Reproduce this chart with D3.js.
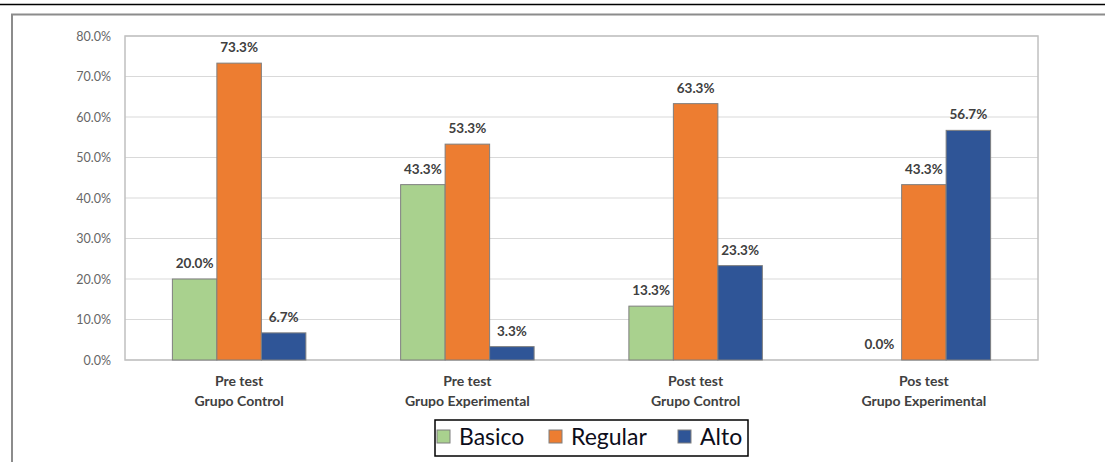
<!DOCTYPE html>
<html>
<head>
<meta charset="utf-8">
<script src="https://cdn.jsdelivr.net/npm/d3@7"></script>
<style>
  body { margin: 0; background: #fff; }
  svg { display: block; font-family: Lato, "Open Sans", sans-serif; }
</style>
</head>
<body>
<div id="chart"></div>
<script>
var categories = [["Pre test", "Grupo Control"], ["Pre test", "Grupo Experimental"], ["Post test", "Grupo Control"], ["Pos test", "Grupo Experimental"]];
var seriesNames = ["Basico", "Regular", "Alto"];
var basico = [20.0, 43.3, 13.3, 0.0];
var regular = [73.3, 53.3, 63.3, 43.3];
var alto = [6.7, 3.3, 23.3, 56.7];
var yTicks = [0, 10, 20, 30, 40, 50, 60, 70, 80];
var colors = ["#a9d18e", "#ed7d31", "#2f5597"];

(function() {
var width = 1105, height = 462;
var pLeft = 125, pRight = 1038, pTop = 36, pBottom = 360;

var svg = d3.select("#chart").append("svg")
  .attr("width", width).attr("height", height);

// page lines / outer frame
svg.append("line").attr("x1", 0).attr("x2", width).attr("y1", 4.5).attr("y2", 4.5)
  .attr("stroke", "#000").attr("stroke-width", 1.5);
svg.append("path").attr("d", "M12,470 V14.5 H1110")
  .attr("fill", "none").attr("stroke", "#8c8c8c").attr("stroke-width", 2);

var x0 = d3.scaleBand().domain(d3.range(categories.length)).range([pLeft, pRight]);
var x1 = d3.scaleBand().domain(seriesNames).range([0, x0.bandwidth()])
  .paddingInner(0).paddingOuter(1.065);
var y = d3.scaleLinear().domain([0, 80]).range([pBottom, pTop]);

// gridlines
svg.append("g").selectAll("line").data(yTicks).enter().append("line")
  .attr("x1", pLeft).attr("x2", pRight)
  .attr("y1", function(d) { return y(d); }).attr("y2", function(d) { return y(d); })
  .attr("stroke", "#d9d9d9").attr("stroke-width", 1.2);

// plot border
svg.append("rect").attr("x", pLeft).attr("y", pTop)
  .attr("width", pRight - pLeft).attr("height", pBottom - pTop)
  .attr("fill", "none").attr("stroke", "#c0c0c0").attr("stroke-width", 1.5);

// y axis labels
var yAxis = d3.axisLeft(y).tickValues(yTicks).tickSize(0).tickPadding(14)
  .tickFormat(function(d) { return d.toFixed(1) + "%"; });
var ya = svg.append("g").attr("transform", "translate(" + pLeft + ",0)").call(yAxis);
ya.select(".domain").remove();
ya.selectAll("text").attr("fill", "#666").style("font-size", "12.5px")
  .style("font-family", "Lato, sans-serif");

var data = categories.map(function(c, i) {
  return { i: i, values: [basico[i], regular[i], alto[i]] };
});

var groups = svg.append("g").selectAll("g").data(data).enter().append("g")
  .attr("transform", function(d) { return "translate(" + x0(d.i) + ",0)"; });

groups.selectAll("rect").data(function(d) {
  return d.values.map(function(v, k) { return { name: seriesNames[k], v: v, k: k }; });
}).enter().append("rect")
  .attr("x", function(d) { return x1(d.name); })
  .attr("width", x1.bandwidth())
  .attr("y", function(d) { return y(d.v); })
  .attr("height", function(d) { return y(0) - y(d.v); })
  .attr("fill", function(d) { return colors[d.k]; })
  .attr("stroke", function(d) { return d.v > 0 ? "#7f7f7f" : "none"; })
  .attr("stroke-width", 1);

groups.selectAll("text.val").data(function(d) {
  return d.values.map(function(v, k) { return { name: seriesNames[k], v: v, k: k }; });
}).enter().append("text").attr("class", "val")
  .attr("x", function(d) { return x1(d.name) + x1.bandwidth() / 2; })
  .attr("y", function(d) { return y(d.v) - 11; })
  .attr("text-anchor", "middle")
  .attr("fill", "#404040").style("font-size", "13.5px").style("font-weight", "bold")
  .text(function(d) { return d.v.toFixed(1) + "%"; });

// category labels
var cat = svg.append("g").selectAll("text").data(categories).enter().append("text")
  .attr("text-anchor", "middle")
  .attr("x", function(d, i) { return x0(i) + x0.bandwidth() / 2; })
  .attr("y", 386)
  .attr("fill", "#404040").style("font-size", "14px").style("font-weight", "bold");
cat.selectAll("tspan").data(function(d) { return d; }).enter().append("tspan")
  .attr("x", function() { return d3.select(this.parentNode).attr("x"); })
  .attr("dy", function(d, j) { return j === 0 ? 0 : 20; })
  .text(function(d) { return d; });

// legend
var legend = svg.append("g");
legend.append("rect").attr("x", 435).attr("y", 420).attr("width", 313).attr("height", 36)
  .attr("fill", "#fff").attr("stroke", "#000").attr("stroke-width", 1.5);
var legX = [437, 549, 678];
var items = legend.selectAll("g").data(seriesNames).enter().append("g")
  .attr("transform", function(d, i) { return "translate(" + legX[i] + ",430)"; });
items.append("rect").attr("width", 13).attr("height", 13)
  .attr("fill", function(d, i) { return colors[i]; })
  .attr("stroke", "#7f7f7f").attr("stroke-width", 1);
items.append("text").attr("x", 22).attr("y", 15)
  .attr("fill", "#0d0d1a").style("font-size", "23px")
  .text(function(d) { return d; });
})();
</script>
</body>
</html>
